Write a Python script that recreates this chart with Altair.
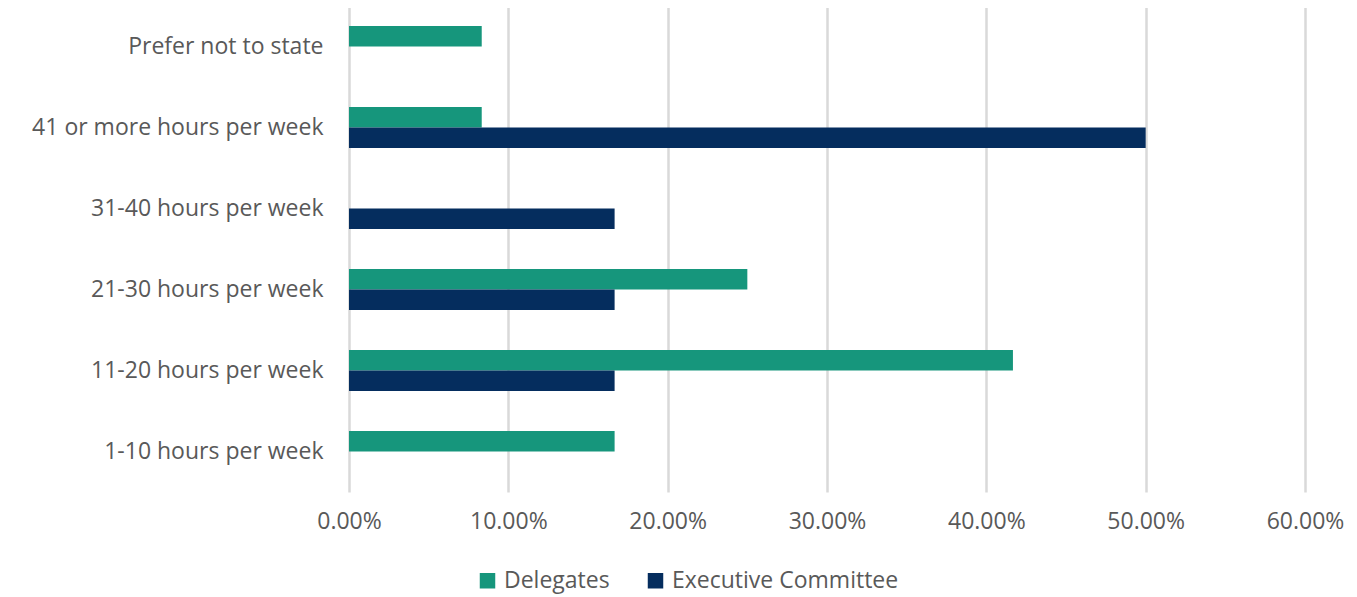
import altair as alt
import pandas as pd

categories = ["Prefer not to state", "41 or more hours per week", "31-40 hours per week",
              "21-30 hours per week", "11-20 hours per week", "1-10 hours per week"]
series = ["Delegates", "Executive Committee"]
delegates = [0.0833, 0.0833, 0.0, 0.25, 0.4167, 0.1667]
executive = [0.0, 0.50, 0.1667, 0.1667, 0.1667, 0.0]
colors = ["#16967C", "#052D5E"]

rows = []
for c, d, e in zip(categories, delegates, executive):
    rows.append({"category": c, "series": series[0], "value": d})
    rows.append({"category": c, "series": series[1], "value": e})
df = pd.DataFrame(rows)

FONT = "Open Sans"
GRAY = "#595959"

chart = alt.Chart(df).mark_bar().encode(
    y=alt.Y("category:N", sort=categories, title=None,
            scale=alt.Scale(paddingInner=0.494, paddingOuter=0.247),
            axis=alt.Axis(labelFont=FONT, labelFontSize=23, labelColor=GRAY,
                          labelPadding=26, ticks=False, domain=False, grid=False,
                          labelLimit=500)),
    yOffset=alt.YOffset("series:N", sort=series),
    x=alt.X("value:Q", title=None,
            scale=alt.Scale(domain=[0, 0.6], nice=False),
            axis=alt.Axis(format=".2%", values=[0, 0.1, 0.2, 0.3, 0.4, 0.5, 0.6],
                          labelFont=FONT, labelFontSize=23, labelColor=GRAY,
                          labelPadding=18, labelFlush=False, ticks=False, domain=False,
                          grid=True, gridColor="#D9D9D9", gridWidth=2.5)),
    color=alt.Color("series:N", sort=series, title=None,
                    scale=alt.Scale(domain=series, range=colors),
                    legend=alt.Legend(orient="none", direction="horizontal",
                                      legendX=127, legendY=563,
                                      symbolType="square", symbolSize=240,
                                      symbolStrokeWidth=0,
                                      labelFont=FONT, labelFontSize=23,
                                      labelColor=GRAY, columnPadding=34,
                                      labelOffset=5, labelLimit=500)),
).properties(
    width=956, height=486,
    autosize=alt.AutoSizeParams(type="none"),
    padding={"left": 341, "top": -2, "right": 40, "bottom": 104},
).configure_view(stroke=None)

chart.save("out.html", embed_options={"renderer": "svg", "actions": False})
